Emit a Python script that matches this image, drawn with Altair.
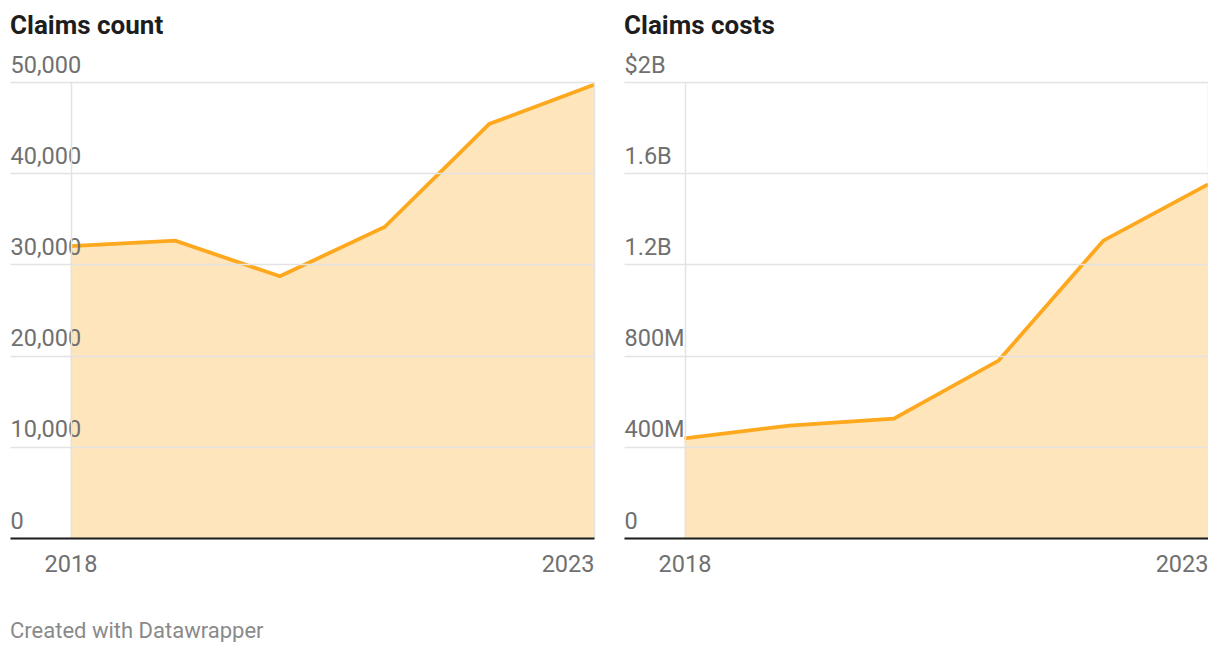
import altair as alt
import pandas as pd

years = [2018, 2019, 2020, 2021, 2022, 2023]
claims_count = [32000, 32600, 28700, 34100, 45400, 49700]
claims_costs = [437e6, 493e6, 523e6, 778e6, 1304e6, 1551e6]

count_ticks = [0, 10000, 20000, 30000, 40000, 50000]
cost_ticks = [0, 4e8, 8e8, 1.2e9, 1.6e9, 2e9]
year_ticks = [2018, 2023]

df = pd.DataFrame({"year": years, "count": claims_count, "cost": claims_costs})

LINE = "#fea81e"
FONT = "Roboto"
X_DOMAIN = [2017.422, 2023]
LABEL_SIZE = 23.5


def panel(field, title, ticks, ymax, label_expr, w):
    x = alt.X(
        "year:Q",
        scale=alt.Scale(domain=X_DOMAIN, nice=False, zero=False),
        axis=alt.Axis(
            values=year_ticks, format="d", title=None, labelFlush=True,
            domain=True, domainColor="#1d1d1d", domainWidth=2,
            ticks=False, labelPadding=14, labelFontSize=LABEL_SIZE, labelFont=FONT,
            labelColor="#707070", grid=True, gridColor="#e3e3e3", gridWidth=1.5,
            zindex=2,
        ),
    )
    y = alt.Y(
        f"{field}:Q",
        scale=alt.Scale(domain=[0, ymax], nice=False),
        axis=alt.Axis(
            values=ticks, title=None, domain=False, ticks=False, tickSize=0,
            labelAlign="left", labelBaseline="alphabetic", labelPadding=0,
            labelOffset=-10, labelFontSize=LABEL_SIZE, labelFont=FONT, labelColor="#707070",
            labelExpr=label_expr, grid=True, gridColor="#e3e3e3", gridWidth=1.5,
            zindex=1,
        ),
    )
    base = alt.Chart(df)
    area = base.mark_area(color=LINE, opacity=0.3, clip=True).encode(x=x, y=y)
    line = base.mark_line(color=LINE, strokeWidth=3.8, clip=True).encode(x=x, y=y)
    return alt.layer(area, line).properties(
        width=w, height=456,
        title=alt.TitleParams(
            title, anchor="start", fontSize=26, fontWeight="bold", font=FONT,
            color="#1d1d1d", offset=14,
        ),
    )


left = panel(
    "count", "Claims count", count_ticks, 50000,
    "format(datum.value, ',')", 584,
)
right = panel(
    "cost", "Claims costs", cost_ticks, 2e9,
    "datum.value == 0 ? '0' : datum.value >= 2e9 ? '$2B' : datum.value >= 1e9 ? format(datum.value / 1e9, '.1f') + 'B' : format(datum.value / 1e6, 'd') + 'M'",
    584,
)

chart = alt.hconcat(left, right, spacing=30, bounds="flush").properties(
    title=alt.TitleParams(
        "Created with Datawrapper", orient="bottom", anchor="start",
        fontSize=22, fontWeight="normal", font=FONT, color="#8a8a8a", offset=45,
    ),
    padding={"left": 2, "top": 5, "right": 0, "bottom": 0},
).configure_view(stroke=None)

chart.save("out.html", embed_options={"renderer": "svg", "actions": False})
